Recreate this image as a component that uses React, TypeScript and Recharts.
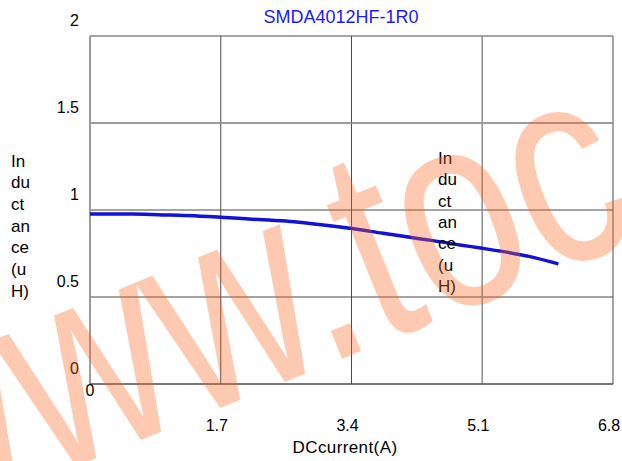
import React from "react";
import { LineChart, Line, XAxis, YAxis, CartesianGrid, ReferenceLine } from "recharts";

const current = [0, 0.56, 1.04, 1.4, 1.7, 2.2, 2.6, 2.86, 3.38, 3.81, 4.16, 4.46, 4.81, 5.1, 5.33, 5.72, 6.09];
const inductance = [0.977, 0.977, 0.971, 0.966, 0.958, 0.945, 0.934, 0.923, 0.895, 0.866, 0.843, 0.824, 0.799, 0.78, 0.764, 0.732, 0.69];
const xTicks = [0, 1.7, 3.4, 5.1, 6.8];
const yTicks = [0, 0.5, 1, 1.5, 2];
const title = "SMDA4012HF-1R0";
const xLabel = "DCcurrent(A)";
const yLabelLines = ["In", "du", "ct", "an", "ce", "(u", "H)"];
const watermark = "www.toc";

const data = current.map((c, i) => ({ x: c, y: inductance[i] }));
const FONT = "'Liberation Sans', Arial, sans-serif";

const XTick = (props: any) => {
  const { x, payload } = props;
  const isZero = payload.value === 0;
  return (
    <text
      x={isZero ? x : x - 4}
      y={isZero ? 396 : 431}
      textAnchor="middle"
      fontSize={16}
      fontFamily={FONT}
      fill="#000"
    >
      {String(payload.value)}
    </text>
  );
};

const YTick = (props: any) => {
  const { y, payload } = props;
  return (
    <text x={79} y={y - 10} textAnchor="end" fontSize={16} fontFamily={FONT} fill="#000">
      {String(payload.value)}
    </text>
  );
};

export default function App() {
  const S = 250;
  return (
    <div style={{ position: "absolute", left: 0, top: 0, width: 622, height: 461, background: "#fff" }}>
      <div style={{ position: "absolute", left: 0, top: 0 }}>
        <LineChart width={622} height={461} data={data} margin={{ top: 36, right: 9, left: 0, bottom: 0 }}>
          <CartesianGrid stroke="#4a4a4a" strokeWidth={1} />
          <XAxis
            dataKey="x"
            type="number"
            domain={[0, 6.8]}
            ticks={xTicks}
            height={77}
            axisLine={false}
            tickLine={false}
            tick={<XTick />}
            interval={0}
          />
          <YAxis
            type="number"
            domain={[0, 2]}
            ticks={yTicks}
            width={90}
            axisLine={false}
            tickLine={false}
            tick={<YTick />}
            interval={0}
          />
          <ReferenceLine x={0} stroke="#9a9a9a" strokeWidth={1.5} ifOverflow="visible" />
          <ReferenceLine x={5.1} stroke="#9a9a9a" strokeWidth={1.2} ifOverflow="visible" />
          <ReferenceLine y={1.5} stroke="#9a9a9a" strokeWidth={1.5} ifOverflow="visible" />
          <ReferenceLine y={0} stroke="#4a4a4a" ifOverflow="visible" />
          <Line
            dataKey="y"
            type="monotone"
            stroke="#1212d6"
            strokeWidth={3.5}
            dot={false}
            isAnimationActive={false}
          />
        </LineChart>
      </div>
      <svg width={622} height={461} style={{ position: "absolute", left: 0, top: 0, pointerEvents: "none" }}>
        <text x={341} y={23} textAnchor="middle" fontSize={18} fontFamily={FONT} fill="#1a1aff">
          {title}
        </text>
        <text x={345} y={453} textAnchor="middle" fontSize={17} letterSpacing={0.4} fontFamily={FONT} fill="#000">
          {xLabel}
        </text>
        {yLabelLines.map((t, i) => (
          <text key={"a" + i} x={11} y={166.7 + i * 21.67} fontSize={17} fontFamily={FONT} fill="#000">
            {t}
          </text>
        ))}
        {yLabelLines.map((t, i) => (
          <text key={"b" + i} x={438} y={164 + i * 21.3} fontSize={17} fontFamily={FONT} fill="#000">
            {t}
          </text>
        ))}
        <g transform="translate(357,337) rotate(-22) scale(0.86,1.12)">
          <text
            x={-2.305 * S}
            y={0.052 * S}
            fontSize={S}
            fontFamily={FONT}
            fill="rgba(250,100,30,0.35)"
          >
            {watermark}
          </text>
        </g>
      </svg>
    </div>
  );
}
